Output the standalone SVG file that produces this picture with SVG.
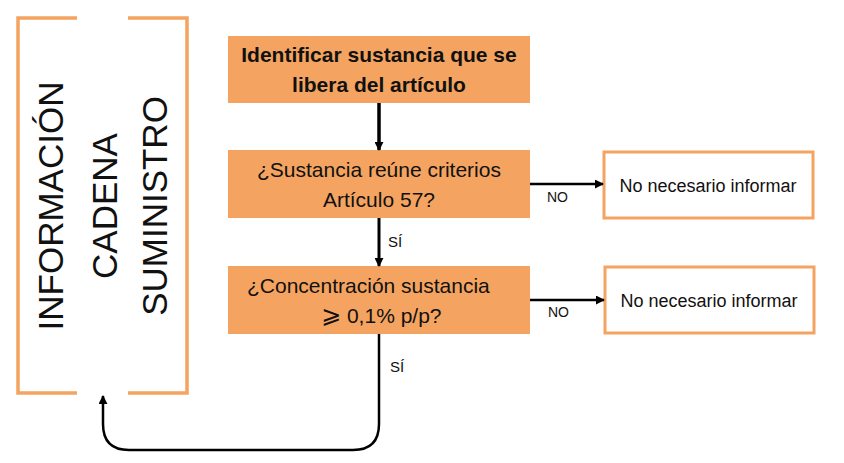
<svg xmlns="http://www.w3.org/2000/svg" width="844" height="463" viewBox="0 0 844 463">
<defs>
<style>
.box{fill:#F4A460;stroke:none}
.wbox{fill:#fff;stroke:#F4A460;stroke-width:3}
.br{fill:none;stroke:#F4A460;stroke-width:3.5}
.t{font-family:"Liberation Sans",Arial,sans-serif;fill:#111}
.vt{font-family:"Liberation Sans",Arial,sans-serif;font-size:35px;fill:#111;text-anchor:middle}
.c{stroke:#000;fill:none}
</style>
<marker id="ah" viewBox="0 0 10 10" refX="9" refY="5" markerWidth="9" markerHeight="9" markerUnits="userSpaceOnUse" orient="auto">
<path d="M0,0 L10,5 L0,10 z" fill="#000"/>
</marker>
</defs>
<rect width="844" height="463" fill="#fff"/>
<g id="info">
<path class="br" d="M77,18 H18 V393 H77"/>
<path class="br" d="M128,18 H187 V393 H128"/>
<text class="vt" transform="translate(63,206) rotate(-90)">INFORMACIÓN</text>
<text class="vt" transform="translate(117,206) rotate(-90)">CADENA</text>
<text class="vt" transform="translate(167,206) rotate(-90)">SUMINISTRO</text>
</g>
<g id="n1">
<rect class="box" x="228" y="36" width="302" height="67"/>
<text class="t" x="379" y="62" font-size="21" font-weight="bold" text-anchor="middle">Identificar sustancia que se</text>
<text class="t" x="379" y="92" font-size="21" font-weight="bold" text-anchor="middle">libera del artículo</text>
</g>
<g id="n2">
<rect class="box" x="228" y="150" width="302" height="68"/>
<text class="t" x="379" y="177" font-size="21" text-anchor="middle">¿Sustancia reúne criterios</text>
<text class="t" x="379" y="207" font-size="21" text-anchor="middle">Artículo 57?</text>
</g>
<g id="n3">
<rect class="box" x="228" y="266" width="302" height="68"/>
<text class="t" x="247" y="293" font-size="21">¿Concentración sustancia</text>
<text class="t" x="321" y="323" font-size="21"><tspan font-family="'DejaVu Sans',sans-serif" font-size="24">⩾</tspan> 0,1% p/p?</text>
</g>
<g id="n4">
<rect class="wbox" x="604" y="152" width="209" height="66"/>
<text class="t" x="708" y="192" font-size="18" text-anchor="middle">No necesario informar</text>
</g>
<g id="n5">
<rect class="wbox" x="605" y="267" width="209" height="66"/>
<text class="t" x="709" y="307" font-size="18" text-anchor="middle">No necesario informar</text>
</g>
<g id="connectors">
<line class="c" x1="379" y1="103" x2="379" y2="150" stroke-width="3.5" marker-end="url(#ah)"/>
<line class="c" x1="379" y1="218" x2="379" y2="266" stroke-width="3" marker-end="url(#ah)"/>
<line class="c" x1="530" y1="184" x2="603" y2="184" stroke-width="2.5" marker-end="url(#ah)"/>
<line class="c" x1="530" y1="300" x2="604" y2="300" stroke-width="2.5" marker-end="url(#ah)"/>
<path class="c" d="M379,334 V424 Q379,450 353,450 H129 Q103,450 103,424 V396" stroke-width="2.5" marker-end="url(#ah)"/>
<text class="t" x="547" y="202" font-size="14">NO</text>
<text class="t" x="548" y="317" font-size="14">NO</text>
<text class="t" x="388" y="247" font-size="15">SÍ</text>
<text class="t" x="390" y="372" font-size="15">SÍ</text>
</g>
</svg>
